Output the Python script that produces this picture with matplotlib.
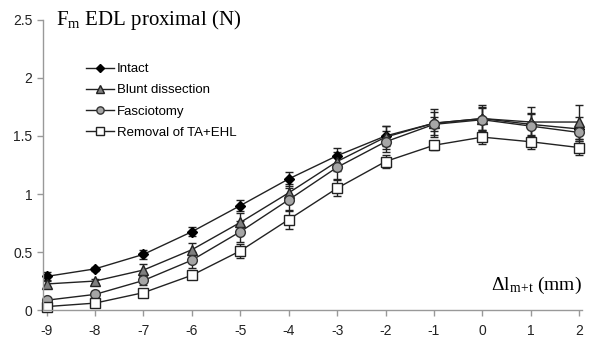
import matplotlib
matplotlib.use("Agg")
import matplotlib.pyplot as plt
from matplotlib.lines import Line2D

plt.rcParams['font.family'] = ['Liberation Sans', 'DejaVu Sans']
plt.rcParams['mathtext.fontset'] = 'custom'
plt.rcParams['mathtext.rm'] = 'Liberation Serif'
plt.rcParams['mathtext.it'] = 'Liberation Serif:italic'

x = [-9, -8, -7, -6, -5, -4, -3, -2, -1, 0, 1, 2]
intact = [0.29, 0.355, 0.48, 0.675, 0.90, 1.13, 1.33, 1.50, 1.61, 1.65, 1.60, 1.56]
intact_err = [0.04, 0.02, 0.04, 0.04, 0.05, 0.06, 0.07, 0.09, 0.10, 0.10, 0.10, 0.10]
blunt = [0.225, 0.25, 0.345, 0.52, 0.755, 1.01, 1.28, 1.49, 1.61, 1.65, 1.62, 1.62]
blunt_err = [0.03, 0.02, 0.05, 0.06, 0.08, 0.08, 0.08, 0.10, 0.12, 0.12, 0.13, 0.15]
fasc = [0.085, 0.135, 0.255, 0.43, 0.675, 0.95, 1.23, 1.45, 1.60, 1.64, 1.585, 1.53]
fasc_err = [0.02, 0.03, 0.04, 0.07, 0.09, 0.10, 0.10, 0.09, 0.06, 0.10, 0.10, 0.06]
removal = [0.03, 0.06, 0.15, 0.30, 0.51, 0.78, 1.05, 1.28, 1.42, 1.49, 1.45, 1.40]
removal_err = [0.02, 0.02, 0.03, 0.03, 0.06, 0.08, 0.07, 0.06, 0.04, 0.06, 0.06, 0.06]

labels = ['Intact', 'Blunt dissection', 'Fasciotomy', 'Removal of TA+EHL']
yticks = [0, 0.5, 1, 1.5, 2, 2.5]
ytick_labels = ['0', '0.5', '1', '1.5', '2', '2.5']

fig = plt.figure(figsize=(5.94, 3.43), dpi=100)
ax = fig.add_axes([0.072, 0.096, 0.908, 0.846])

styles = [
    dict(marker='D', markersize=5.5, markerfacecolor='black', markeredgecolor='black'),
    dict(marker='^', markersize=7, markerfacecolor='#7f7f7f', markeredgecolor='#222222'),
    dict(marker='o', markersize=7, markerfacecolor='#a6a6a6', markeredgecolor='#333333'),
    dict(marker='s', markersize=7, markerfacecolor='white', markeredgecolor='#222222'),
]
data = [(intact, intact_err), (blunt, blunt_err), (fasc, fasc_err), (removal, removal_err)]
handles = []
for (vals, err), style, lab in zip(data, styles, labels):
    cont = ax.errorbar(x, vals, yerr=err, color='#222222', linewidth=1.0, elinewidth=1.0,
                       ecolor='#222222', capsize=3, capthick=1.0, **style)
    for art in [cont.lines[0], *cont.lines[1], *cont.lines[2]]:
        art.set_clip_on(False)
    small = dict(style)
    small['markersize'] = style['markersize'] * 0.75
    handles.append(Line2D([], [], color='#222222', linewidth=1.0, label=lab, **small))

ax.set_xlim(-9.08, 2.06)
ax.set_ylim(0, 2.5)
ax.set_xticks(x)
ax.set_xticklabels([str(v) for v in x])
ax.set_yticks(yticks)
ax.set_yticklabels(ytick_labels)
for s in ['top', 'right']:
    ax.spines[s].set_visible(False)
for s in ['left', 'bottom']:
    ax.spines[s].set_color('#999999')
    ax.spines[s].set_linewidth(1.0)
ax.tick_params(axis='both', colors='#999999', labelcolor='#222222', labelsize=10, length=4, width=1.0)
ax.tick_params(axis='x', pad=6)

ax.text(0.025, 1.0, r'F$_{\mathrm{m}}$ EDL proximal (N)', transform=ax.transAxes,
        fontsize=15, family='Liberation Serif', va='center', ha='left')
ax.text(1.0, 0.085, r'$\Delta$l$_{\mathrm{m\!+\!t}}$ (mm)', transform=ax.transAxes,
        fontsize=14, family='Liberation Serif', va='center', ha='right')

ax.legend(handles=handles, loc='upper left', bbox_to_anchor=(0.07, 0.87), frameon=False,
          fontsize=9.5, handlelength=2.1, handletextpad=0.25, labelspacing=0.68,
          borderaxespad=0)

fig.savefig('out.png', dpi=100)
